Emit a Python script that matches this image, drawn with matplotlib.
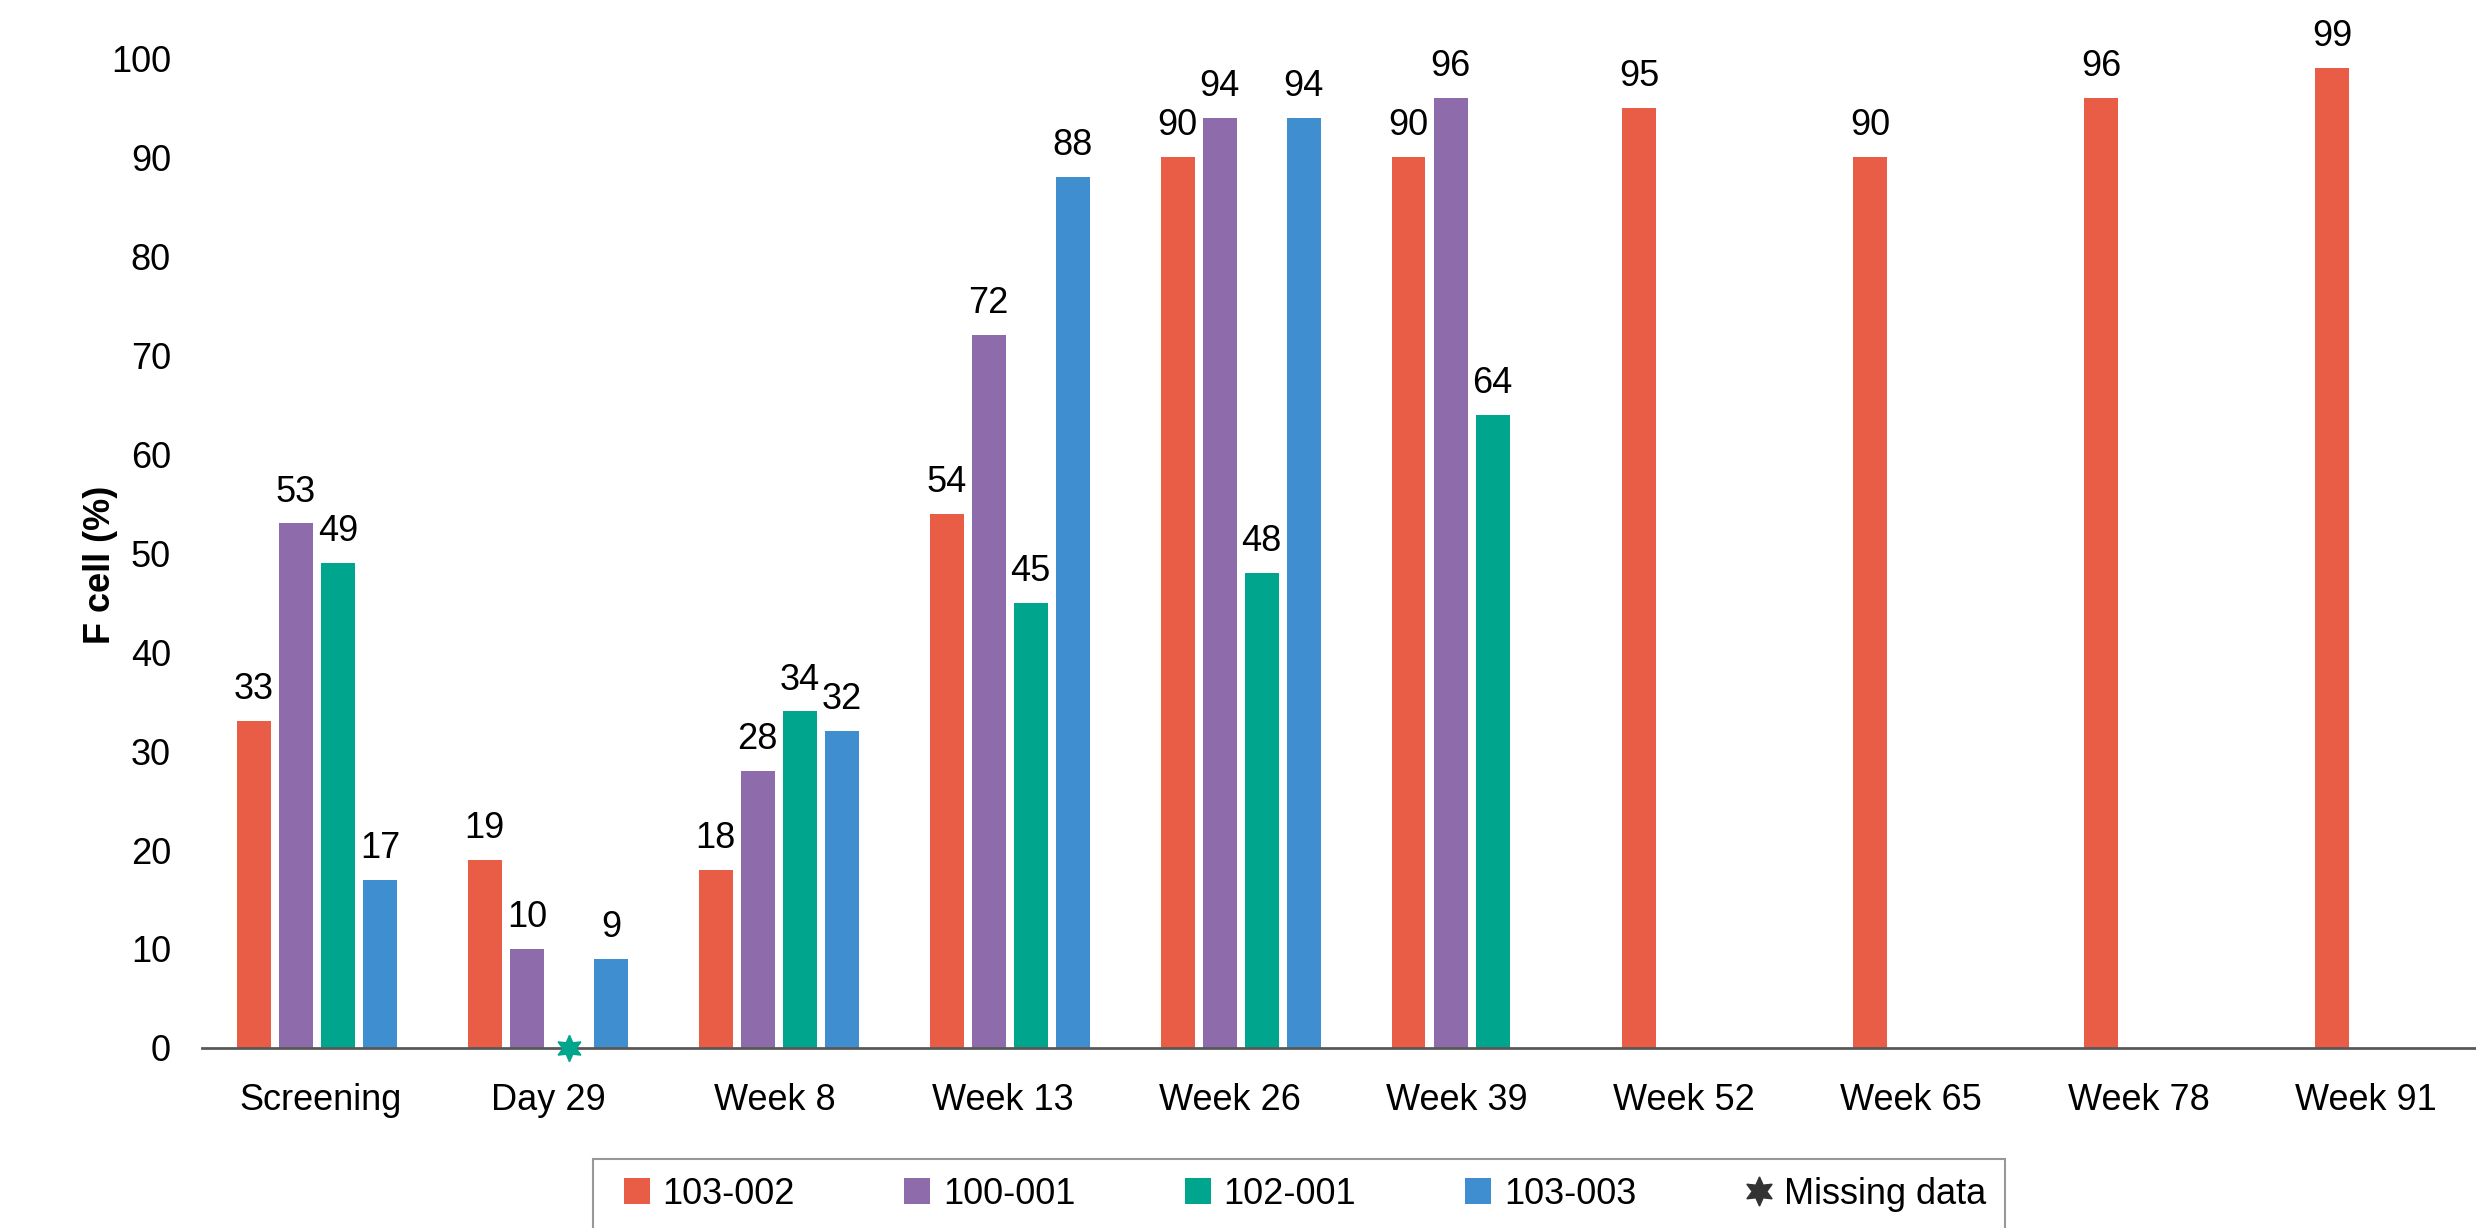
import matplotlib
matplotlib.use('Agg')
import matplotlib.pyplot as plt
from matplotlib.lines import Line2D
import numpy as np

plt.rcParams['font.family'] = ['Liberation Sans', 'DejaVu Sans']

categories = ['Screening', 'Day 29', 'Week 8', 'Week 13', 'Week 26', 'Week 39',
              'Week 52', 'Week 65', 'Week 78', 'Week 91']
patients = ['103-002', '100-001', '102-001', '103-003']
colors = ['#E95D47', '#8E6BAA', '#00A58D', '#3E8ED0']
# None = no bar
values = [
    [33, 19, 18, 54, 90, 90, 95, 90, 96, 99],
    [53, 10, 28, 72, 94, 96, None, None, None, None],
    [49, None, 34, 45, 48, 64, None, None, None, None],
    [17, 9, 32, 88, 94, None, None, None, None, None],
]
# (category, patient) with missing data
missing = [(1, 2)]

fs = 26
fig = plt.figure(figsize=(24.76, 12.28), dpi=100)
ax = fig.add_axes([0.0814, 0.1466, 0.9186, 0.806])

x = np.arange(len(categories))
width = 0.147
step = 0.182
for i, (name, col) in enumerate(zip(patients, colors)):
    off = (i - 1.5) * step
    for j, v in enumerate(values[i]):
        if v is None:
            continue
        ax.bar(x[j] + off, v, width=width, color=col, zorder=2)
        ax.annotate(str(v), (x[j] + off, v), xytext=(0, 10), textcoords='offset points',
                    ha='center', va='bottom', fontsize=fs)

for j, i in missing:
    ax.plot(x[j] + (i - 1.5) * step, 0, marker=(6, 1, 0), color=colors[i],
            markersize=19, clip_on=False, zorder=5)

# the last group runs off the right edge in the original
ax.set_xlim(-0.5, len(categories) - 0.65)
ax.set_ylim(0, 100)
ax.set_yticks(range(0, 101, 10))
# category labels sit on a slightly tighter grid than the bar groups
ax.set_xticks(x * 0.984 + 0.016)
ax.set_xticklabels(categories)
ax.tick_params(axis='both', length=0, labelsize=fs)
ax.tick_params(axis='x', pad=25)
ax.tick_params(axis='y', pad=22)
for s in ['top', 'right', 'left']:
    ax.spines[s].set_visible(False)
ax.spines['bottom'].set_color('#595959')
ax.spines['bottom'].set_linewidth(2)
fig.text(100 / 2476, 1 - 565 / 1228, 'F cell (%)', rotation=90, fontsize=fs,
         fontweight='bold', ha='center', va='center')

handles = [Line2D([], [], marker='s', color=c, markeredgewidth=0, linestyle='none',
                  markersize=18.5, label=p) for c, p in zip(colors, patients)]
handles.append(Line2D([], [], marker=(6, 1, 0), color='#333333', linestyle='none',
                      markersize=21, label='Missing data'))
leg = fig.legend(handles=handles, loc='upper left',
                 bbox_to_anchor=(593 / 2476, 1 - 1159 / 1228), borderaxespad=0,
                 ncol=5, fontsize=fs, frameon=True, fancybox=False,
                 handlelength=1.42, handletextpad=0.0,
                 columnspacing=2.68, borderpad=0.5)
leg.get_frame().set_edgecolor('#7f7f7f')
leg.get_frame().set_linewidth(1.5)

fig.savefig('out.png', dpi=100)
